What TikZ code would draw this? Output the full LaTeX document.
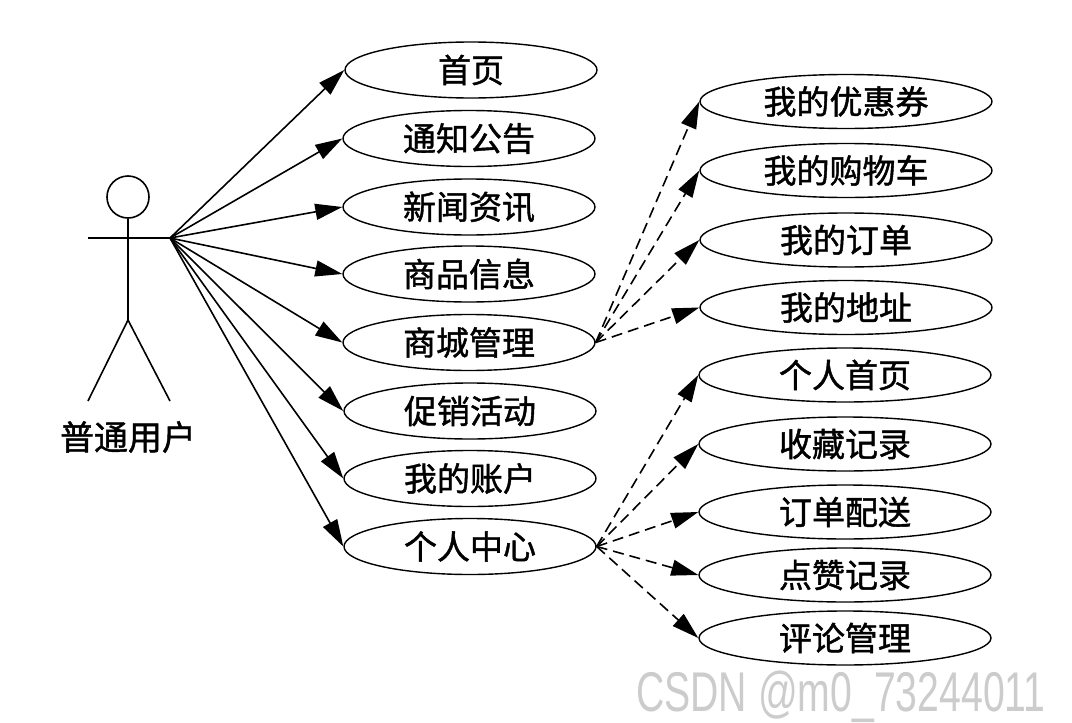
\documentclass[tikz,border=0pt]{standalone}
\usepackage{fontspec}
\newfontfamily\cjk{Noto Sans CJK SC}[FakeBold=1.3]
\newfontfamily\wmfont{Liberation Sans}
\usetikzlibrary{shapes.geometric,arrows.meta}
\tikzset{
  uc/.style={ellipse, draw, line width=1.4pt, inner sep=0pt, font=\cjk\fontsize{33pt}{36pt}\selectfont},
  ucl/.style={uc, minimum width=252pt, minimum height=56pt},
  ucr/.style={uc, minimum width=292pt, minimum height=54pt},
  assoc/.style={line width=1.6pt, -{Triangle[length=27pt,width=16pt]}},
  dep/.style={assoc, dash pattern=on 11pt off 6pt},
  actorline/.style={line width=1.6pt}
}
\begin{document}
\begin{tikzpicture}[x=1pt,y=-1pt]
\useasboundingbox (0,0) rectangle (1072,723);
% actor
\node[circle, draw, line width=1.6pt, minimum size=42pt, inner sep=0pt] (head) at (128,197) {};
\coordinate (lhand) at (88,238);
\coordinate (hand) at (170,238);
\coordinate (hip) at (128,320);
\coordinate (lfoot) at (88,401);
\coordinate (rfoot) at (170,401);
\draw[actorline] (head.south) -- (hip);
\draw[actorline] (lhand) -- (hand);
\draw[actorline] (lfoot) -- (hip) -- (rfoot);
\node[font=\cjk\fontsize{34pt}{36pt}\selectfont] (actorlabel) at (128,437) {普通用户};
% left use cases
\node[ucl] (e1) at (471,70) {首页};
\node[ucl] (e2) at (469,138.5) {通知公告};
\node[ucl] (e3) at (469,207) {新闻资讯};
\node[ucl] (e4) at (469,274) {商品信息};
\node[ucl] (e5) at (469,342.5) {商城管理};
\node[ucl] (e6) at (470,411) {促销活动};
\node[ucl] (e7) at (470,478.5) {我的账户};
\node[ucl] (e8) at (470,546.5) {个人中心};
% right use cases
\node[ucr] (r1) at (846,101.5) {我的优惠券};
\node[ucr] (r2) at (846,170.5) {我的购物车};
\node[ucr] (r3) at (846,240) {我的订单};
\node[ucr] (r4) at (846,307.5) {我的地址};
\node[ucr] (r5) at (845,375) {个人首页};
\node[ucr] (r6) at (845,444) {收藏记录};
\node[ucr] (r7) at (845,512) {订单配送};
\node[ucr] (r8) at (845,575) {点赞记录};
\node[ucr] (r9) at (845,638) {评论管理};
% associations
\foreach \e in {e1,e2,e3,e4,e5,e6,e7,e8}
  \draw[assoc] (hand) -- (\e.west);
\foreach \r in {r1,r2,r3,r4}
  \draw[dep] (e5.east) -- (\r.west);
\foreach \r in {r5,r6,r7,r8,r9}
  \draw[dep] (e8.east) -- (\r.west);
% watermark
\node[text=black!20, font=\wmfont\fontsize{56pt}{60pt}\selectfont, inner sep=0pt] (wm) at (841,697) {\scalebox{0.7}[1]{CSDN @m0\_73244011}};
\end{tikzpicture}
\end{document}
